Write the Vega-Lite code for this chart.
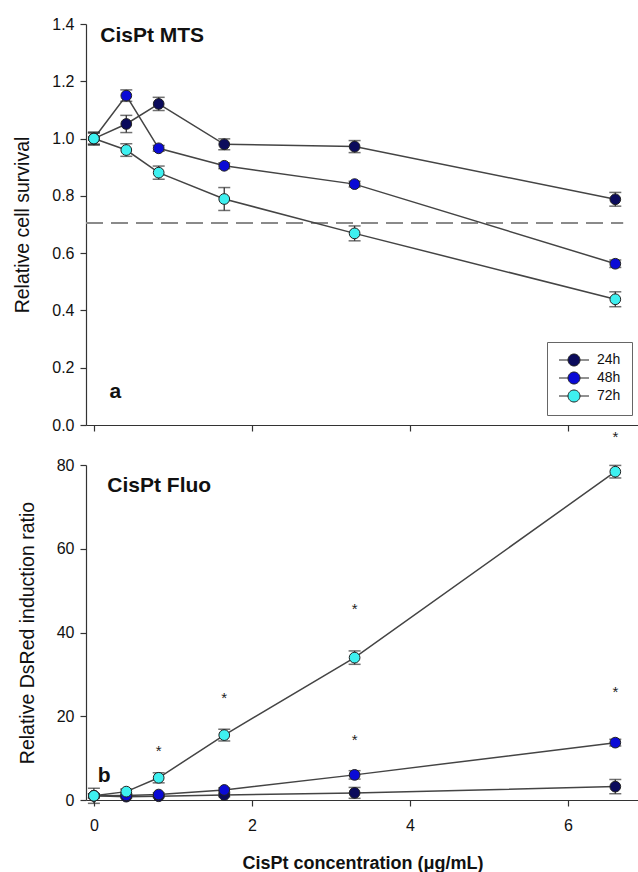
{
  "$schema": "https://vega.github.io/schema/vega-lite/v6.json",
  "padding": {"left": 12, "top": 16, "right": 0, "bottom": 0},
  "bounds": "flush",
  "spacing": 40,
  "config": {
    "view": {"stroke": null},
    "font": "Liberation Sans",
    "axis": {
      "grid": false, "domainColor": "#333", "tickColor": "#333", "domainWidth": 1.2, "tickWidth": 1.2,
      "labelFont": "Liberation Sans", "labelFontSize": 16, "labelColor": "#111",
      "titleFont": "Liberation Sans", "titleColor": "#111", "tickSize": 6
    }
  },
  "datasets": {
    "pts": [
      {"panel": "MTS", "time": "24h", "conc": 0, "val": 1.0, "err": 0.02},
      {"panel": "MTS", "time": "24h", "conc": 0.41, "val": 1.051, "err": 0.03},
      {"panel": "MTS", "time": "24h", "conc": 0.82, "val": 1.121, "err": 0.023},
      {"panel": "MTS", "time": "24h", "conc": 1.65, "val": 0.98, "err": 0.019},
      {"panel": "MTS", "time": "24h", "conc": 3.3, "val": 0.972, "err": 0.021},
      {"panel": "MTS", "time": "24h", "conc": 6.6, "val": 0.788, "err": 0.024},
      {"panel": "MTS", "time": "48h", "conc": 0, "val": 1.0, "err": 0.02},
      {"panel": "MTS", "time": "48h", "conc": 0.41, "val": 1.15, "err": 0.02},
      {"panel": "MTS", "time": "48h", "conc": 0.82, "val": 0.966, "err": 0.01},
      {"panel": "MTS", "time": "48h", "conc": 1.65, "val": 0.905, "err": 0.01},
      {"panel": "MTS", "time": "48h", "conc": 3.3, "val": 0.841, "err": 0.01},
      {"panel": "MTS", "time": "48h", "conc": 6.6, "val": 0.563, "err": 0.013},
      {"panel": "MTS", "time": "72h", "conc": 0, "val": 1.0, "err": 0.023},
      {"panel": "MTS", "time": "72h", "conc": 0.41, "val": 0.96, "err": 0.022},
      {"panel": "MTS", "time": "72h", "conc": 0.82, "val": 0.881, "err": 0.023},
      {"panel": "MTS", "time": "72h", "conc": 1.65, "val": 0.789, "err": 0.04},
      {"panel": "MTS", "time": "72h", "conc": 3.3, "val": 0.669, "err": 0.026},
      {"panel": "MTS", "time": "72h", "conc": 6.6, "val": 0.439, "err": 0.026},
      {"panel": "Fluo", "time": "24h", "conc": 0, "val": 1.0, "err": 0.5},
      {"panel": "Fluo", "time": "24h", "conc": 0.41, "val": 0.8, "err": 0.3},
      {"panel": "Fluo", "time": "24h", "conc": 0.82, "val": 0.9, "err": 0.3},
      {"panel": "Fluo", "time": "24h", "conc": 1.65, "val": 1.2, "err": 0.4},
      {"panel": "Fluo", "time": "24h", "conc": 3.3, "val": 1.7, "err": 1.3},
      {"panel": "Fluo", "time": "24h", "conc": 6.6, "val": 3.2, "err": 1.7},
      {"panel": "Fluo", "time": "48h", "conc": 0, "val": 1.0, "err": 0.5},
      {"panel": "Fluo", "time": "48h", "conc": 0.41, "val": 1.1, "err": 0.3},
      {"panel": "Fluo", "time": "48h", "conc": 0.82, "val": 1.3, "err": 0.4},
      {"panel": "Fluo", "time": "48h", "conc": 1.65, "val": 2.4, "err": 0.5},
      {"panel": "Fluo", "time": "48h", "conc": 3.3, "val": 6.0, "err": 1.0},
      {"panel": "Fluo", "time": "48h", "conc": 6.6, "val": 13.7, "err": 0.8},
      {"panel": "Fluo", "time": "72h", "conc": 0, "val": 1.0, "err": 1.8},
      {"panel": "Fluo", "time": "72h", "conc": 0.41, "val": 2.0, "err": 0.6},
      {"panel": "Fluo", "time": "72h", "conc": 0.82, "val": 5.3, "err": 1.2},
      {"panel": "Fluo", "time": "72h", "conc": 1.65, "val": 15.5, "err": 1.4},
      {"panel": "Fluo", "time": "72h", "conc": 3.3, "val": 34.0, "err": 1.6},
      {"panel": "Fluo", "time": "72h", "conc": 6.6, "val": 78.4, "err": 1.5}
    ],
    "stars": [
      {"conc": 0.82, "val": 12.6},
      {"conc": 1.65, "val": 25.2},
      {"conc": 3.3, "val": 46.5},
      {"conc": 3.3, "val": 15.3},
      {"conc": 6.6, "val": 26.8},
      {"conc": 6.6, "val": 87.6}
    ],
    "one": [{"k": 1}]
  },
  "vconcat": [
    {
      "width": 553,
      "height": 401,
      "layer": [
        {
          "data": {"name": "one"},
          "mark": {"type": "rule", "color": "#8a8a8a", "strokeWidth": 2, "strokeDash": [17, 8]},
          "encoding": {"y": {"datum": 0.705}, "x": {"datum": -0.1}, "x2": {"datum": 6.7}}
        },
        {
          "data": {"name": "pts"},
          "transform": [{"filter": "datum.panel === 'MTS'"}],
          "layer": [
            {
              "mark": {"type": "line", "color": "#444", "strokeWidth": 1.5},
              "encoding": {
                "x": {"field": "conc", "type": "quantitative", "title": null},
                "y": {"field": "val", "type": "quantitative", "title": "Relative cell survival"},
                "detail": {"field": "time"}
              }
            },
            {
              "mark": {"type": "errorbar", "color": "#333", "thickness": 1.3, "ticks": {"size": 12, "thickness": 1.5, "color": "#333"}},
              "encoding": {
                "x": {"field": "conc", "type": "quantitative", "title": null},
                "y": {"field": "val", "type": "quantitative", "title": "Relative cell survival"},
                "yError": {"field": "err"},
                "detail": {"field": "time"}
              }
            },
            {
              "mark": {"type": "point", "filled": true, "size": 115, "stroke": "#222", "strokeWidth": 1, "opacity": 1},
              "encoding": {
                "x": {"field": "conc", "type": "quantitative", "title": null, "scale": {"domain": [-0.1, 6.9], "nice": false},
                  "axis": {"values": [0, 2, 4, 6], "labels": false, "title": null}},
                "y": {"field": "val", "type": "quantitative", "title": "Relative cell survival", "scale": {"domain": [0, 1.4], "nice": false},
                  "axis": {"values": [0, 0.2, 0.4, 0.6, 0.8, 1.0, 1.2, 1.4], "format": ".1f", "labelPadding": 6,
                    "titleFontSize": 19.5, "titleFontWeight": "normal", "titlePadding": 19}},
                "fill": {"field": "time", "type": "nominal",
                  "scale": {"domain": ["24h", "48h", "72h"], "range": ["#0b0b5c", "#0a0ad6", "#3ef0f0"]},
                  "legend": {
                    "title": null, "orient": "none", "legendX": 461, "legendY": 318,
                    "strokeColor": "#666", "fillColor": "#fff", "padding": 11, "cornerRadius": 0,
                    "symbolType": "M-2.5,0L-1,0M1,0L2.5,0M-1,0A1,1 0 1,1 1,0A1,1 0 1,1 -1,0Z",
                    "symbolSize": 144, "symbolStrokeColor": "#222", "symbolStrokeWidth": 1, "symbolOffset": 9,
                    "labelFontSize": 14, "labelFont": "Liberation Sans", "labelColor": "#111", "labelOffset": 16, "rowPadding": 2
                  }}
              }
            }
          ]
        },
        {
          "data": {"name": "one"},
          "mark": {"type": "text", "text": "CisPt MTS", "fontSize": 21, "fontWeight": "bold", "align": "left", "baseline": "middle", "color": "#111"},
          "encoding": {"x": {"datum": 0.08}, "y": {"datum": 1.358}}
        },
        {
          "data": {"name": "one"},
          "mark": {"type": "text", "text": "a", "fontSize": 21, "fontWeight": "bold", "align": "center", "baseline": "middle", "color": "#111"},
          "encoding": {"x": {"datum": 0.27}, "y": {"datum": 0.115}}
        }
      ]
    },
    {
      "width": 553,
      "height": 335,
      "layer": [
        {
          "data": {"name": "pts"},
          "transform": [{"filter": "datum.panel === 'Fluo'"}],
          "layer": [
            {
              "mark": {"type": "line", "color": "#444", "strokeWidth": 1.5},
              "encoding": {
                "x": {"field": "conc", "type": "quantitative", "title": "CisPt concentration (μg/mL)"},
                "y": {"field": "val", "type": "quantitative", "title": "Relative DsRed induction ratio"},
                "detail": {"field": "time"}
              }
            },
            {
              "mark": {"type": "errorbar", "color": "#333", "thickness": 1.3, "ticks": {"size": 12, "thickness": 1.5, "color": "#333"}},
              "encoding": {
                "x": {"field": "conc", "type": "quantitative", "title": "CisPt concentration (μg/mL)"},
                "y": {"field": "val", "type": "quantitative", "title": "Relative DsRed induction ratio"},
                "yError": {"field": "err"},
                "detail": {"field": "time"}
              }
            },
            {
              "mark": {"type": "point", "filled": true, "size": 115, "stroke": "#222", "strokeWidth": 1, "opacity": 1},
              "encoding": {
                "x": {"field": "conc", "type": "quantitative", "title": "CisPt concentration (μg/mL)", "scale": {"domain": [-0.1, 6.9], "nice": false},
                  "axis": {"values": [0, 2, 4, 6], "format": "d", "labelPadding": 11,
                    "titleFontSize": 18, "titleFontWeight": "bold", "titlePadding": 21}},
                "y": {"field": "val", "type": "quantitative", "title": "Relative DsRed induction ratio", "scale": {"domain": [0, 80], "nice": false},
                  "axis": {"values": [0, 20, 40, 60, 80], "format": "d", "labelPadding": 6,
                    "titleFontSize": 19.5, "titleFontWeight": "normal", "titlePadding": 19}},
                "fill": {"field": "time", "type": "nominal", "legend": null}
              }
            }
          ]
        },
        {
          "data": {"name": "stars"},
          "mark": {"type": "text", "text": "*", "fontSize": 15, "align": "center", "baseline": "middle", "dy": 4, "color": "#222", "clip": false},
          "encoding": {
            "x": {"field": "conc", "type": "quantitative", "title": "CisPt concentration (μg/mL)"},
            "y": {"field": "val", "type": "quantitative", "title": "Relative DsRed induction ratio"}
          }
        },
        {
          "data": {"name": "one"},
          "mark": {"type": "text", "text": "CisPt Fluo", "fontSize": 21, "fontWeight": "bold", "align": "left", "baseline": "middle", "color": "#111"},
          "encoding": {"x": {"datum": 0.17}, "y": {"datum": 75}}
        },
        {
          "data": {"name": "one"},
          "mark": {"type": "text", "text": "b", "fontSize": 21, "fontWeight": "bold", "align": "center", "baseline": "middle", "color": "#111"},
          "encoding": {"x": {"datum": 0.13}, "y": {"datum": 5.7}}
        }
      ]
    }
  ]
}
